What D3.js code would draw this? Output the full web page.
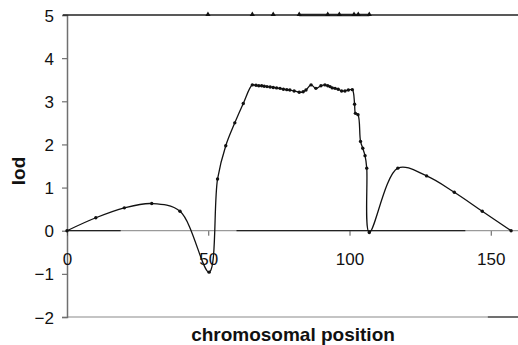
<!DOCTYPE html>
<html><head><meta charset="utf-8">
<script src="https://cdn.jsdelivr.net/npm/d3@7"></script>
<style>
html,body{margin:0;padding:0;background:#fff;}
svg{display:block;font-family:"Liberation Sans",Arial,Helvetica,sans-serif;}
</style></head>
<body>
<svg id="chart" width="518" height="345"></svg>
<script>
// LOD profile along the chromosome
const positions = [0,10.2,20.3,30.0,40.0,50.3,53.3,56.2,59.4,62.4,65.6,66.9,67.9,68.9,69.8,70.8,71.9,73.0,74.2,75.4,76.6,77.8,78.9,80.4,82.2,83.6,84.6,86.4,88.1,89.9,91.3,92.3,93.1,93.9,94.9,96.0,97.2,98.4,99.6,101.0,101.8,102.1,103.0,103.9,104.7,105.5,106.1,107.0,117.1,127.3,137.1,147.0,157.2];
const lodValues = [0,0.30,0.53,0.63,0.45,-0.96,1.20,1.97,2.50,2.95,3.38,3.37,3.36,3.36,3.35,3.34,3.33,3.32,3.31,3.30,3.28,3.27,3.26,3.24,3.21,3.22,3.26,3.38,3.30,3.36,3.38,3.36,3.34,3.31,3.30,3.28,3.24,3.24,3.26,3.27,2.93,2.72,2.69,2.07,1.91,1.74,1.45,-0.04,1.45,1.27,0.89,0.45,0.0];
// marker positions shown on the line at lod = 5
const markerPositions = [49.9,65.6,73.0,82.2,92.3,96.4,101.6,103.1,107.0];
const markerLod = 5;
const yTicks = [-2,-1,0,1,2,3,4,5];
const xTicks = [0,50,100,150];
const xTitle = "chromosomal position";
const yTitle = "lod";

const svg = d3.select("#chart");
const x = d3.scaleLinear().domain([0,160]).range([67,519]);
const y = d3.scaleLinear().domain([-2,5]).range([317,15]);

// bottom border line (lod = -2)
svg.append("line").attr("x1",x(0)).attr("x2",x(150)-3).attr("y1",y(-2)).attr("y2",y(-2))
  .attr("stroke","#8a8a8a").attr("stroke-width",1.2);
svg.append("line").attr("x1",x(150)-3).attr("x2",518).attr("y1",y(-2)).attr("y2",y(-2))
  .attr("stroke","#222").attr("stroke-width",1.3);

// y axis
const yAxis = svg.append("g").attr("transform",`translate(${x(0)},0)`)
  .call(d3.axisLeft(y).tickValues(yTicks).tickSize(5).tickPadding(8).tickFormat(d3.format("d")));
yAxis.select(".domain").attr("stroke","#707070").attr("stroke-width",1.5);
yAxis.selectAll(".tick line").attr("stroke","#707070").attr("stroke-width",1.2);
yAxis.selectAll(".tick text").attr("font-size",17).attr("fill","#111")
  .attr("font-family","Liberation Sans, Arial, sans-serif").attr("dy","0.36em");

// x axis at lod = 0
const xAxis = svg.append("g").attr("transform",`translate(0,${y(0)})`)
  .call(d3.axisBottom(x).tickValues(xTicks).tickSize(5).tickPadding(0).tickFormat(d3.format("d")));
xAxis.select(".domain").remove();
xAxis.selectAll(".tick line").attr("stroke","#555").attr("stroke-width",1);
xAxis.selectAll(".tick text").attr("font-size",17).attr("fill","#111")
  .attr("font-family","Liberation Sans, Arial, sans-serif").attr("y",28).attr("dy","0.36em");
// zero line: gray base with darker segments
svg.append("line").attr("x1",x(0)).attr("x2",518).attr("y1",y(0)).attr("y2",y(0))
  .attr("stroke","#9a9a9a").attr("stroke-width",1.3);
[[0,19],[60,141]].forEach(s=>{
  svg.append("line").attr("x1",x(s[0])).attr("x2",x(s[1])).attr("y1",y(0)).attr("y2",y(0))
    .attr("stroke","#222").attr("stroke-width",1.3);
});

// top line at lod = 5
svg.append("line").attr("x1",x(0)-4).attr("x2",518).attr("y1",y(markerLod)).attr("y2",y(markerLod))
  .attr("stroke","#222").attr("stroke-width",1.4);
svg.append("line").attr("x1",x(82.2)).attr("x2",x(107.0)).attr("y1",y(markerLod)).attr("y2",y(markerLod))
  .attr("stroke","#222").attr("stroke-width",2.4);
svg.selectAll("path.tri").data(markerPositions).enter().append("path").attr("class","tri")
  .attr("d",d3.symbol().type(d3.symbolTriangle).size(12))
  .attr("transform",d=>`translate(${x(d)},${y(markerLod)-0.5})`).attr("fill","#111");

// LOD curve
const pts = positions.map((p,i)=>[p,lodValues[i]]);
const line = d3.line().x(d=>x(d[0])).y(d=>y(d[1])).curve(d3.curveCatmullRom.alpha(0.5));
svg.append("path").datum(pts).attr("d",line).attr("fill","none")
  .attr("stroke","#111").attr("stroke-width",1.3);
svg.selectAll("circle.pt").data(pts).enter().append("circle").attr("class","pt")
  .attr("cx",d=>x(d[0])).attr("cy",d=>y(d[1])).attr("r",1.7).attr("fill","#111");

// titles
svg.append("text").attr("x",293).attr("y",341).attr("text-anchor","middle")
  .attr("font-size",19).attr("font-weight","bold").attr("fill","#111").text(xTitle);
svg.append("text").attr("transform","translate(25,171) rotate(-90)").attr("text-anchor","middle")
  .attr("font-size",19).attr("font-weight","bold").attr("fill","#111").text(yTitle);
</script>
</body></html>
